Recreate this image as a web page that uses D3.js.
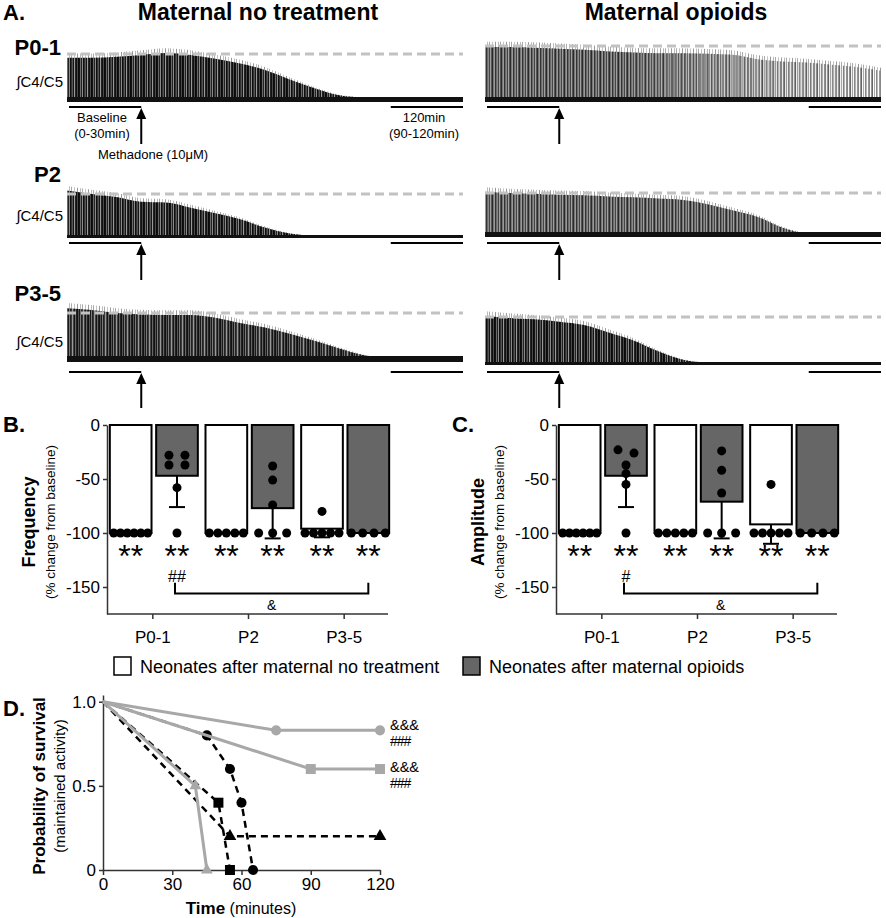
<!DOCTYPE html>
<html>
<head>
<meta charset="utf-8">
<script src="https://cdnjs.cloudflare.com/ajax/libs/d3/7.8.5/d3.min.js"></script>
<style>
  body { margin: 0; background: #fff; }
  svg { display: block; font-family: "Liberation Sans", Arial, sans-serif; }
</style>
</head>
<body>
<div id="fig"></div>
<script>
// ---------- data ----------
// panel A: envelope of the integrated C4/C5 bursts, as fraction of the dashed baseline level
const traceMinutes = [0, 10, 20, 30, 40, 50, 60, 70, 80, 90, 100, 110, 120, 130, 140, 150, 160];
const envNoTxP01 = [0.92, 0.92, 0.94, 0.98, 1.02, 0.98, 0.90, 0.80, 0.66, 0.46, 0.27, 0.12, 0.07, 0.05, 0.05, 0.05, 0.05];
const envOpP01   = [0.98, 0.98, 0.97, 0.95, 0.93, 0.90, 0.88, 0.87, 0.87, 0.86, 0.84, 0.76, 0.72, 0.70, 0.66, 0.62, 0.55];
const envNoTxP2  = [1.08, 1.00, 0.93, 0.82, 0.80, 0.68, 0.55, 0.41, 0.22, 0.08, 0.03, 0.02, 0.02, 0.02, 0.02, 0.02, 0.02];
const envOpP2    = [1.03, 1.00, 0.98, 0.96, 0.95, 0.92, 0.90, 0.87, 0.84, 0.74, 0.60, 0.45, 0.20, 0.06, 0.03, 0.03, 0.03];
const envNoTxP35 = [1.10, 1.06, 1.00, 0.97, 0.96, 0.96, 0.90, 0.79, 0.70, 0.57, 0.42, 0.26, 0.12, 0.06, 0.05, 0.05, 0.05];
const envOpP35   = [1.02, 0.98, 0.95, 0.90, 0.83, 0.67, 0.50, 0.27, 0.09, 0.03, 0.02, 0.02, 0.02, 0.02, 0.02, 0.02, 0.02];
const baselineWindow = [0, 30];
const endWindow = [130, 160];
const drugAt = 30;

// panels B and C
const groups = ["P0-1", "P2", "P3-5"];
const freqNoTx = [-100, -100, -96];
const freqOp = [-47, -77, -100];
const freqNoTxErr = [0, 0, 8];
const freqOpErr = [29, 28, 0];
const freqNoTxPts = [[-100, -100, -100, -100, -100, -100], [-100, -100, -100, -100, -100], [-80, -100, -100, -100, -100, -100]];
const freqOpPts = [[-28, -28, -37, -37, -58, -100], [-38, -51, -74, -100, -100, -100], [-100, -100, -100, -100]];

const ampNoTx = [-100, -100, -92];
const ampOp = [-47, -71, -100];
const ampNoTxErr = [0, 0, 18];
const ampOpErr = [29, 34, 0];
const ampNoTxPts = [[-100, -100, -100, -100, -100, -100], [-100, -100, -100, -100, -100], [-55, -100, -100, -100, -100, -100]];
const ampOpPts = [[-23, -26, -37, -45, -55, -100], [-24, -42, -63, -100, -100, -100], [-100, -100, -100, -100]];

const barTicks = [0, -50, -100, -150];

// panel D: survival curves
const survTicksX = [0, 30, 60, 90, 120];
const survTicksY = [0, 0.5, 1.0];
const opP01T = [0, 75, 120],          opP01P = [1, 0.83, 0.83];
const opP2T = [0, 90, 120],           opP2P = [1, 0.6, 0.6];
const opP35T = [0, 40, 45],           opP35P = [1, 0.5, 0];
const noTxP01T = [0, 45, 55, 60, 65], noTxP01P = [1, 0.8, 0.6, 0.4, 0];
const noTxP2T = [0, 50, 55],          noTxP2P = [1, 0.4, 0];
const noTxP35T = [0, 55, 120],        noTxP35P = [1, 0.2, 0.2];

// ---------- drawing ----------
const W = 886, H = 918;
const svg = d3.select("#fig").append("svg").attr("width", W).attr("height", H);
const GRAY = "#a8a8a8";

function text(x, y, s, size, opt = {}) {
  const t = svg.append("text").attr("x", x).attr("y", y).text(s)
    .attr("font-size", size)
    .attr("font-weight", opt.bold ? "bold" : null)
    .attr("text-anchor", opt.anchor || "start")
    .attr("fill", "#000");
  if (opt.rotate) t.attr("transform", `rotate(-90,${x},${y})`);
  if (opt.ls) t.attr("letter-spacing", opt.ls);
  return t;
}

// patterns for burst texture
const defs = svg.append("defs");
function stripes(id, bg, cols) {
  const p = defs.append("pattern").attr("id", id).attr("patternUnits", "userSpaceOnUse")
    .attr("width", cols.length).attr("height", 20);
  if (bg) p.append("rect").attr("width", cols.length).attr("height", 20).attr("fill", bg);
  cols.forEach((c, i) => { if (c) p.append("rect").attr("x", i).attr("width", 1).attr("height", 20).attr("fill", c); });
}
stripes("burstDark", "#1a1a1a", ["#0a0a0a", "#111", "#6a6a6a", "#222", "#8a8a8a", "#0d0d0d", "#333", "#555", "#151515", "#9a9a9a", "#222", "#111", "#4a4a4a"]);
stripes("burstDark2", "#2a2a2a", ["#111", "#555", "#1a1a1a", "#7a7a7a", "#222", "#3a3a3a", "#999", "#444", "#151515", "#666", "#222"]);
stripes("burstMid", "#5a5a5a", ["#333", "#6a6a6a", "#8a8a8a", "#444", "#a0a0a0", "#555", "#2a2a2a", "#777", "#999"]);
stripes("burstLight", "#fff", ["#888", null, "#9a9a9a", "#666", null, "#aaa", null, "#888", "#bbb", null, "#999"]);
stripes("tips", null, ["#999", null, null, "#bbb", null, "#aaa", null, null, "#c4c4c4", null, null]);

const grad = defs.append("linearGradient").attr("id", "fadeGrad").attr("x1", 0).attr("x2", 1).attr("y1", 0).attr("y2", 0);
grad.append("stop").attr("offset", 0).attr("stop-color", "#fff");
grad.append("stop").attr("offset", 0.35).attr("stop-color", "#fff");
grad.append("stop").attr("offset", 0.75).attr("stop-color", "#333");
grad.append("stop").attr("offset", 1).attr("stop-color", "#000");

// panel A
text(3, 20, "A.", 22, { bold: true });
text(258, 20, "Maternal no treatment", 23, { bold: true, anchor: "middle" });
text(676, 20, "Maternal opioids", 23, { bold: true, anchor: "middle" });

const colX = [67, 485];
const traceW = 396;
const traceRows = [
  { label: "P0-1", labelY: 55, calY: 87, base: [101, 101], dash: [54, 46], under: 107, arrowEnd: 144,
    env: [envNoTxP01, envOpP01], fill: ["burstDark", "burstLight"], over: [null, "burstMid"], band: [5, 5] },
  { label: "P2", labelY: 182, calY: 221, base: [237, 236], dash: [194, 193], under: 243, arrowEnd: 280,
    env: [envNoTxP2, envOpP2], fill: ["burstDark", "burstMid"], over: [null, null], band: [3, 5] },
  { label: "P3-5", labelY: 301, calY: 347, base: [361, 364], dash: [313, 317], under: 372, arrowEnd: 408,
    env: [envNoTxP35, envOpP35], fill: ["burstDark2", "burstDark"], over: [null, null], band: [6, 3] }
];

traceRows.forEach((row, r) => {
  text(61, row.labelY, row.label, 22, { bold: true, anchor: "end" });
  text(63, row.calY, "\u222BC4/C5", 15, { anchor: "end" });
  [0, 1].forEach(c => {
    const xs = d3.scaleLinear().domain([0, 160]).range([colX[c], colX[c] + traceW]);
    const base = row.base[c], dash = row.dash[c];
    const ys = d3.scaleLinear().domain([0, 1]).range([base, dash]);
    const env = row.env[c];
    const area = d3.area()
      .x((d, i) => xs(traceMinutes[i]))
      .y0(base)
      .y1(d => ys(d))
      .curve(d3.curveMonotoneX);
    const tipArea = d3.area()
      .x((d, i) => xs(traceMinutes[i]))
      .y0(d => ys(d) + 1)
      .y1(d => ys(d * 1.1))
      .curve(d3.curveMonotoneX);
    svg.append("path").attr("d", tipArea(env)).attr("fill", "url(#tips)");
    svg.append("path").attr("d", area(env)).attr("fill", `url(#${row.fill[c]})`);
    if (row.over[c]) {
      const mid = `fade${r}${c}`;
      defs.append("mask").attr("id", mid).attr("maskUnits", "userSpaceOnUse")
        .append("rect").attr("x", xs(0)).attr("y", dash - 20).attr("width", traceW).attr("height", base - dash + 30)
        .attr("fill", "url(#fadeGrad)");
      svg.append("path").attr("d", area(env)).attr("fill", `url(#${row.over[c]})`).attr("mask", `url(#${mid})`);
    }
    // noise band
    const bw = row.band[c];
    svg.append("line").attr("x1", xs(0)).attr("x2", xs(160)).attr("y1", base - bw / 2 + 1).attr("y2", base - bw / 2 + 1)
      .attr("stroke", "#111").attr("stroke-width", bw);
    // baseline reference level
    svg.append("line").attr("x1", xs(0)).attr("x2", xs(160)).attr("y1", dash).attr("y2", dash)
      .attr("stroke", "#c2c2c2").attr("stroke-width", 3).attr("stroke-dasharray", "9,5");
    // analysis windows
    [baselineWindow, endWindow].forEach(w => {
      svg.append("line").attr("x1", xs(w[0]) + 2).attr("x2", xs(w[1])).attr("y1", row.under).attr("y2", row.under)
        .attr("stroke", "#000").attr("stroke-width", 2);
    });
    // drug arrow
    const ax = xs(drugAt);
    svg.append("line").attr("x1", ax).attr("x2", ax).attr("y1", row.arrowEnd).attr("y2", row.under + 9)
      .attr("stroke", "#000").attr("stroke-width", 2);
    svg.append("path").attr("d", `M${ax},${row.under + 1}L${ax - 5},${row.under + 12}L${ax + 5},${row.under + 12}Z`)
      .attr("fill", "#000");
  });
});
text(102, 122, "Baseline", 13, { anchor: "middle" });
text(102, 138, "(0-30min)", 13, { anchor: "middle" });
text(424, 122, "120min", 13, { anchor: "middle" });
text(424, 138, "(90-120min)", 13, { anchor: "middle" });
text(153, 159, "Methadone  (10\u03BCM)", 13, { anchor: "middle" });

// panels B and C
const yBar = d3.scaleLinear().domain([-175, 0]).range([614, 425]);

function clusterX(vals, cx) {
  // spread dots sharing (nearly) the same value across the bar
  const sorted = vals.slice().sort((a, b) => b - a);
  const clusters = [];
  sorted.forEach(v => {
    const last = clusters[clusters.length - 1];
    if (last && Math.abs(yBar(last[0]) - yBar(v)) < 8) last.push(v); else clusters.push([v]);
  });
  const out = [];
  const spread = [0, 0, 16, 28, 34, 34, 34, 34];
  clusters.forEach(cl => {
    const n = cl.length, w = spread[n];
    cl.forEach((v, i) => out.push({ v, x: n === 1 ? cx : cx - w / 2 + (w * i) / (n - 1) }));
  });
  return out;
}

function barPanel(ax, letter, title, noTx, op, noTxErr, opErr, noTxPts, opPts, hash) {
  text(ax - 104, 432, letter, 22, { bold: true });
  const xg = d3.scaleBand().domain(groups).range([ax - 2, ax + 285]);
  const xs = d3.scaleBand().domain(["noTx", "op"]).range([-43, 45]).paddingInner(0.1);
  const g = svg.append("g");

  const yAx = g.append("g").attr("transform", `translate(${ax},0)`)
    .call(d3.axisLeft(yBar).tickValues(barTicks).tickSize(4).tickSizeOuter(0).tickFormat(d => String(d)));
  const xAx = g.append("g").attr("transform", `translate(0,${yBar(-175)})`)
    .call(d3.axisBottom(xg).tickSize(5).tickSizeOuter(0).tickPadding(12));
  xAx.select(".domain").attr("d", `M${ax},0H${ax + 281}`);
  [yAx, xAx].forEach(a => {
    a.attr("font-family", null).attr("font-size", 17);
    a.selectAll("text").attr("fill", "#000");
    a.selectAll("path,line").attr("stroke", "#333").attr("stroke-width", 1.5);
  });

  const series = [
    { key: "noTx", vals: noTx, err: noTxErr, pts: noTxPts, fill: "#fff" },
    { key: "op", vals: op, err: opErr, pts: opPts, fill: "#666" }
  ];
  series.forEach(s => {
    groups.forEach((grp, i) => {
      const x = xg(grp) + xg.bandwidth() / 2 + xs(s.key);
      const cx = x + xs.bandwidth() / 2;
      g.append("rect").attr("x", x).attr("y", yBar(0)).attr("width", xs.bandwidth())
        .attr("height", yBar(s.vals[i]) - yBar(0))
        .attr("fill", s.fill).attr("stroke", "#000").attr("stroke-width", 2);
      if (s.err[i] > 0) {
        const y1 = yBar(s.vals[i]), y2 = yBar(s.vals[i] - s.err[i]);
        g.append("line").attr("x1", cx).attr("x2", cx).attr("y1", y1).attr("y2", y2).attr("stroke", "#000").attr("stroke-width", 2);
        g.append("line").attr("x1", cx - 8).attr("x2", cx + 8).attr("y1", y2).attr("y2", y2).attr("stroke", "#000").attr("stroke-width", 2);
      }
      clusterX(s.pts[i], cx).forEach(p => {
        g.append("circle").attr("cx", p.x).attr("cy", yBar(p.v)).attr("r", 4.5).attr("fill", "#000");
      });
      text(cx, 567, "**", 32, { anchor: "middle" });
      if (s.key === "op" && i === 0) text(cx, 582, hash, 16, { anchor: "middle" });
    });
  });

  // bracket between opioid P0-1 and opioid P3-5
  const bx1 = xg(groups[0]) + xg.bandwidth() / 2 + xs("op") + xs.bandwidth() / 2 - 2;
  const bx2 = xg(groups[2]) + xg.bandwidth() / 2 + xs("op") + xs.bandwidth() / 2;
  g.append("path").attr("d", `M${bx1},${yBar(-146)}V${yBar(-156)}H${bx2}V${yBar(-146)}`)
    .attr("fill", "none").attr("stroke", "#000").attr("stroke-width", 2);
  text((bx1 + bx2) / 2, 610, "&", 14, { anchor: "middle" });

  text(ax - 72, 522, title, 18, { bold: true, anchor: "middle", rotate: true });
  text(ax - 52, 522, "(% change from baseline)", 13.5, { anchor: "middle", rotate: true });
}

barPanel(107, "B.", "Frequency", freqNoTx, freqOp, freqNoTxErr, freqOpErr, freqNoTxPts, freqOpPts, "##");
barPanel(556, "C.", "Amplitude", ampNoTx, ampOp, ampNoTxErr, ampOpErr, ampNoTxPts, ampOpPts, "#");

// legend
svg.append("rect").attr("x", 114).attr("y", 657).attr("width", 17).attr("height", 18)
  .attr("fill", "#fff").attr("stroke", "#000").attr("stroke-width", 1.5);
text(140, 673, "Neonates after maternal no treatment", 18);
svg.append("rect").attr("x", 463).attr("y", 657).attr("width", 17).attr("height", 18)
  .attr("fill", "#666").attr("stroke", "#000").attr("stroke-width", 1.5);
text(489, 673, "Neonates after maternal opioids", 18);

// panel D
text(3, 716, "D.", 22, { bold: true });
const xD = d3.scaleLinear().domain([0, 120]).range([103, 380]);
const yD = d3.scaleLinear().domain([0, 1.04]).range([870, 695]);
const gD = svg.append("g");
const yAxD = gD.append("g").attr("transform", `translate(${xD(0)},0)`)
  .call(d3.axisLeft(yD).tickValues(survTicksY).tickSize(4).tickSizeOuter(0)
    .tickFormat(d => d === 0 ? "0" : d.toFixed(1)));
const xAxD = gD.append("g").attr("transform", `translate(0,${yD(0)})`)
  .call(d3.axisBottom(xD).tickValues(survTicksX).tickSize(5).tickSizeOuter(0).tickPadding(3));
[yAxD, xAxD].forEach(a => {
  a.attr("font-family", null).attr("font-size", 17);
  a.selectAll("text").attr("fill", "#000");
  a.selectAll("path,line").attr("stroke", "#333").attr("stroke-width", 1.5);
});

const survSeries = [
  { t: noTxP01T, p: noTxP01P, color: "#000", dash: "7,5", shape: d3.symbolCircle, size: 80 },
  { t: noTxP2T, p: noTxP2P, color: "#000", dash: "7,5", shape: d3.symbolSquare, size: 100 },
  { t: noTxP35T, p: noTxP35P, color: "#000", dash: "7,5", shape: d3.symbolTriangle, size: 70 },
  { t: opP01T, p: opP01P, color: GRAY, dash: null, shape: d3.symbolCircle, size: 80 },
  { t: opP2T, p: opP2P, color: GRAY, dash: null, shape: d3.symbolSquare, size: 100 },
  { t: opP35T, p: opP35P, color: GRAY, dash: null, shape: d3.symbolTriangle, size: 60 }
];
const lineD = d3.line().x(d => xD(d[0])).y(d => yD(d[1]));
survSeries.forEach(s => {
  const pts = s.t.map((t, i) => [t, s.p[i]]);
  gD.append("path").attr("d", lineD(pts)).attr("fill", "none")
    .attr("stroke", s.color).attr("stroke-width", s.dash ? 2.5 : 3)
    .attr("stroke-dasharray", s.dash);
  pts.slice(1).forEach(d => {
    gD.append("path").attr("d", d3.symbol(s.shape, s.size)())
      .attr("transform", `translate(${xD(d[0])},${yD(d[1])})`).attr("fill", s.color);
  });
});

text(390, 730, "&&&", 14.5);
text(390, 746, "###", 14, { ls: -1 });
text(390, 772, "&&&", 14.5);
text(390, 788, "###", 14, { ls: -1 });

const tl = svg.append("text").attr("x", 241).attr("y", 914).attr("text-anchor", "middle").attr("font-size", 17);
tl.append("tspan").attr("font-weight", "bold").text("Time");
tl.append("tspan").attr("font-size", 16).text(" (minutes)");
text(45, 786, "Probability of survival", 17, { bold: true, anchor: "middle", rotate: true });
text(65, 786, "(maintained activity)", 15, { anchor: "middle", rotate: true });
</script>
</body>
</html>
